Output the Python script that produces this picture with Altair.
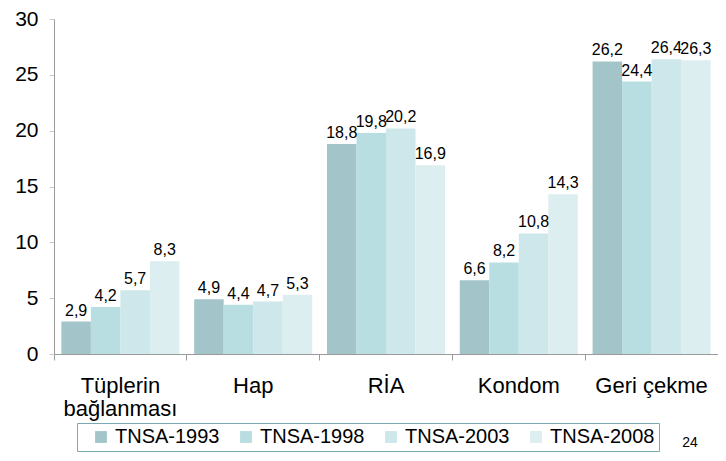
import altair as alt
import pandas as pd

categories = ["Tüplerin bağlanması", "Hap", "RİA", "Kondom", "Geri çekme"]
series = ["TNSA-1993", "TNSA-1998", "TNSA-2003", "TNSA-2008"]
v1993 = [2.9, 4.9, 18.8, 6.6, 26.2]
v1998 = [4.2, 4.4, 19.8, 8.2, 24.4]
v2003 = [5.7, 4.7, 20.2, 10.8, 26.4]
v2008 = [8.3, 5.3, 16.9, 14.3, 26.3]
colors = ["#A3C5C9", "#B8DEE2", "#CDE7EA", "#DCEEEF"]

rows = []
for s, vals in zip(series, [v1993, v1998, v2003, v2008]):
    for c, v in zip(categories, vals):
        rows.append({"cat": c, "series": s, "value": v,
                     "label": f"{v:.1f}".replace(".", ",")})
df = pd.DataFrame(rows)

FONT = "Liberation Sans"

x = alt.X("cat:N", sort=categories, title=None,
          scale=alt.Scale(paddingInner=0, paddingOuter=0),
          axis=alt.Axis(labelAngle=0, bandPosition=0, tickSize=6, labelPadding=15,
                        labelFontSize=22, labelFont=FONT, labelColor="#000000",
                        domainColor="#9a9a9a", tickColor="#9a9a9a",
                        labelBaseline="top", labelLineHeight=23,
                        labelExpr="datum.value == 'Tüplerin bağlanması' ? ['Tüplerin', 'bağlanması'] : datum.value"))
xo = alt.XOffset("series:N", sort=series,
                 scale=alt.Scale(paddingOuter=0.25, paddingInner=0))
y = alt.Y("value:Q", title=None,
          scale=alt.Scale(domain=[0, 30], nice=False),
          axis=alt.Axis(values=[0, 5, 10, 15, 20, 25, 30], grid=False, tickSize=5,
                        labelPadding=11, labelFontSize=21, labelFont=FONT,
                        labelColor="#000000", domainColor="#9a9a9a", tickColor="#c8c8c8"))

bars = alt.Chart(df).mark_bar().encode(
    x=x, xOffset=xo, y=y,
    color=alt.Color("series:N", sort=series,
                    scale=alt.Scale(domain=series, range=colors),
                    legend=alt.Legend(title=None, orient="none", legendX=23, legendY=404,
                                      direction="horizontal", columns=4,
                                      strokeColor="#7aa9b3", padding=4,
                                      symbolType="square", symbolSize=140,
                                      symbolStrokeWidth=0, symbolOffset=10,
                                      labelFontSize=20, labelFont=FONT,
                                      labelColor="#000000", columnPadding=6,
                                      labelOffset=4))
)

text = alt.Chart(df).mark_text(baseline="bottom", dy=-3, fontSize=16, font=FONT,
                               color="#000000").encode(
    x=x, xOffset=xo, y=y, text="label:N")

page = alt.Chart(pd.DataFrame({"t": ["24"]})).mark_text(
    fontSize=14, font=FONT, color="#000000", align="center", baseline="middle"
).encode(x=alt.value(636), y=alt.value(424), text="t:N")

chart = alt.layer(bars, text, page).properties(
    width=664, height=335,
    autosize=alt.AutoSizeParams(type="none"),
    padding={"left": 46, "top": 11, "right": 0, "bottom": 99},
).configure_view(stroke=None)

chart.save("out.html", embed_options={"renderer": "svg", "actions": False})
